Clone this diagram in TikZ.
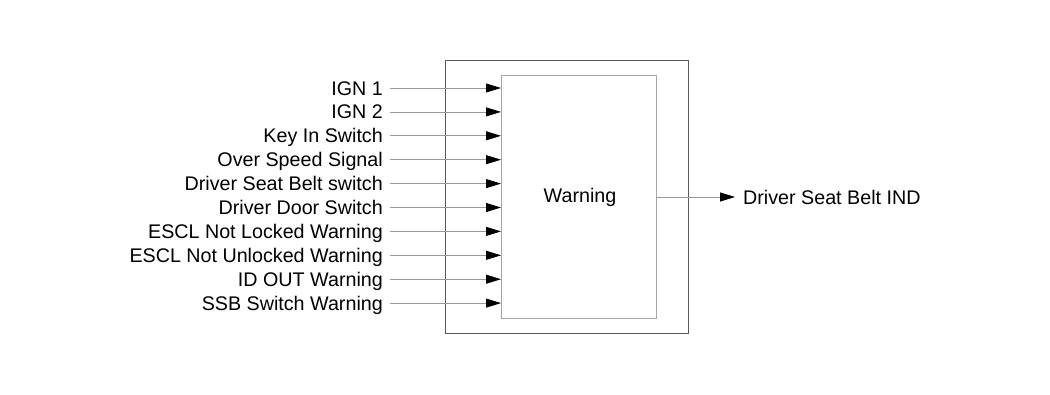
\documentclass[tikz,border=0pt]{standalone}
\usepackage{fontspec}
\setmainfont{Liberation Sans}
\usetikzlibrary{arrows.meta}
\begin{document}
\begin{tikzpicture}[x=1pt,y=-1pt,
  lbl/.style={anchor=base east,inner sep=0pt,font=\fontsize{19.7}{22}\selectfont},
  wire/.style={draw=black!40,line width=0.8pt,-{Triangle[length=15pt,width=9pt,color=black]}},
  outerbox/.style={draw=black!65,line width=1.1pt},
  innerbox/.style={draw=black!35,line width=0.8pt}]
\useasboundingbox (0,0) rectangle (1050,394);
\fill[white] (0,0) rectangle (1050,394);
\node[outerbox,minimum width=243pt,minimum height=273pt,anchor=north west,inner sep=0pt] (outer) at (445,60) {};
\node[innerbox,minimum width=155pt,minimum height=243pt,anchor=north west,inner sep=0pt] (inner) at (501,75) {};
\node[inner sep=0pt,anchor=base,font=\fontsize{19.7}{22}\selectfont] (warn) at (580,202) {Warning};
\foreach \t [count=\i] in {IGN 1,IGN 2,Key In Switch,Over Speed Signal,Driver Seat Belt switch,Driver Door Switch,ESCL Not Locked Warning,ESCL Not Unlocked Warning,ID OUT Warning,SSB Switch Warning}{
  \pgfmathsetmacro{\yy}{88+(\i-1)*23.9}
  \node[lbl] (in\i) at (383,\yy+7) {\t};
  \coordinate (s\i) at (390,\yy);
  \coordinate (e\i) at (501,\yy);
  \draw[wire] (s\i) -- (e\i);
}
\coordinate (os) at (656,197);
\coordinate (oe) at (735,197);
\draw[wire] (os) -- (oe);
\node[lbl,anchor=base west] (out) at (743,204) {Driver Seat Belt IND};
\end{tikzpicture}
\end{document}
